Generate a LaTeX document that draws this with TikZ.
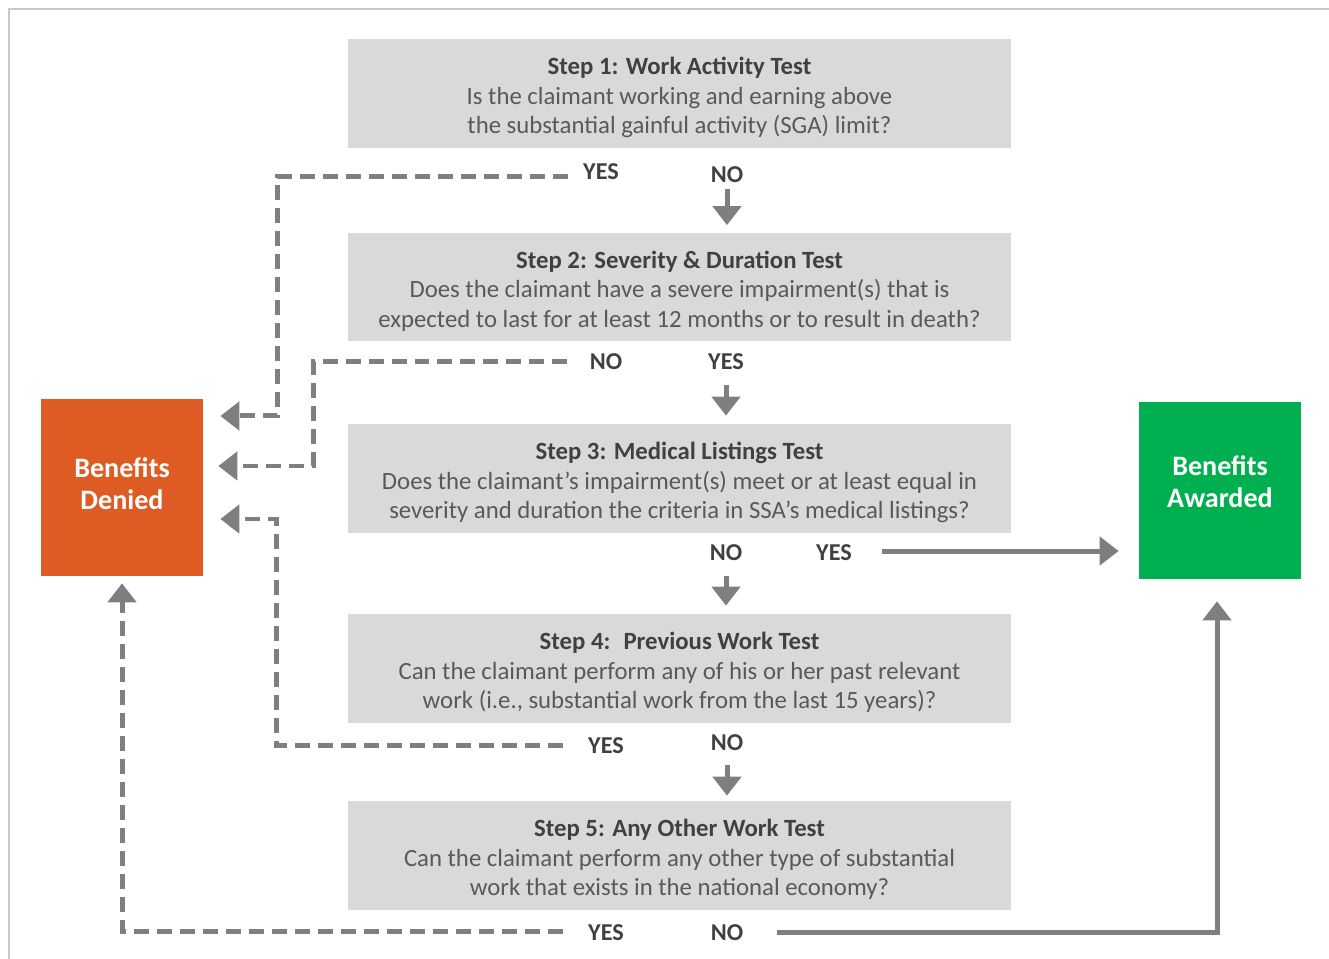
\documentclass[tikz,border=0pt]{standalone}
\usepackage{fontspec}
\setmainfont{Carlito}
\usetikzlibrary{positioning,calc,arrows.meta}
\definecolor{boxgray}{HTML}{D9D9D9}
\definecolor{linegray}{HTML}{7F7F7F}
\definecolor{titlegray}{HTML}{404040}
\definecolor{bodygray}{HTML}{595959}
\definecolor{deniedor}{HTML}{DE5B23}
\definecolor{awardgr}{HTML}{00B050}
\definecolor{framegray}{HTML}{C8C8C8}

\begin{document}
\begin{tikzpicture}[x=0.02cm, y=-0.02cm]
	\tikzstyle{stepbox}=[fill=boxgray, minimum width=13.26cm, minimum height=2.18cm, inner sep=0pt]
	\tikzstyle{steptext}=[align=center, inner sep=0pt, text=bodygray, font=\fontsize{14.1}{16.9}\selectfont, yshift=-0.08cm]
	\tikzstyle{endbox}=[minimum width=3.24cm, minimum height=3.54cm, inner sep=0pt]
	\tikzstyle{endtext}=[align=center, inner sep=0pt, text=white, font=\fontsize{16}{18.3}\selectfont\bfseries]
	\tikzstyle{answer}=[inner sep=0pt, text=titlegray, font=\fontsize{13.8}{16}\selectfont\bfseries]
	\tikzstyle{flow}=[linegray, line width=0.1cm, -{Triangle[length=0.38cm, width=0.56cm]}]
	\tikzstyle{dashflow}=[flow, dash pattern=on 0.3cm off 0.16cm]
	\newcommand{\steptitle}[1]{{\color{titlegray}\bfseries #1}}

	\useasboundingbox (0,0) rectangle (1329,959);
	\draw [framegray, line width=0.03cm] (9,959) -- (9,9) -- (1329,9);

	% the five tests
	\node[stepbox, label={[steptext]center:{\steptitle{Step 1: Work Activity Test}\\Is the claimant working and earning above\\the substantial gainful activity (SGA) limit?}}] (s1) at (679.5, 93.5) {};
	\node[stepbox, label={[steptext]center:{\steptitle{Step 2: Severity \& Duration Test}\\Does the claimant have a severe impairment(s) that is\\expected to last for at least 12 months or to result in death?}}] (s2) at (679.5, 287) {};
	\node[stepbox, label={[steptext]center:{\steptitle{Step 3: Medical Listings Test}\\Does the claimant’s impairment(s) meet or at least equal in\\severity and duration the criteria in SSA's medical listings?}}] (s3) at (679.5, 478.5) {};
	\node[stepbox, label={[steptext]center:{\steptitle{Step 4:~ Previous Work Test}\\Can the claimant perform any of his or her past relevant\\work (i.e., substantial work from the last 15 years)?}}] (s4) at (679.5, 668.5) {};
	\node[stepbox, label={[steptext]center:{\steptitle{Step 5: Any Other Work Test}\\Can the claimant perform any other type of substantial\\work that exists in the national economy?}}] (s5) at (679.5, 855.5) {};

	% outcomes
	\node[endbox, fill=deniedor, label={[endtext, yshift=0.08cm]center:{Benefits\\Denied}}] (denied) at (122, 487.5) {};
	\node[endbox, fill=awardgr, label={[endtext, yshift=0.18cm]center:{Benefits\\Awarded}}] (awarded) at (1220, 490.5) {};

	% answers
	\node[answer] (yes1) at (601, 172) {YES};
	\node[answer] (no1)  at (727, 175) {NO};
	\node[answer] (no2)  at (606, 362) {NO};
	\node[answer] (yes2) at (726, 362) {YES};
	\node[answer] (no3)  at (726, 553) {NO};
	\node[answer] (yes3) at (834, 553) {YES};
	\node[answer] (yes4) at (606, 746) {YES};
	\node[answer] (no4)  at (727, 743) {NO};
	\node[answer] (yes5) at (606, 933) {YES};
	\node[answer] (no5)  at (727, 933) {NO};

	\coordinate (k1) at (277, 416);
	\coordinate (k2) at (313, 466);
	\coordinate (k4) at (276, 519);
	\coordinate (k5) at (122, 931);
	\coordinate (k6) at (1217, 932);

	% on to the next test
	\draw [flow, shorten <=0.12cm, shorten >=0.14cm] (no1.south) -- (no1.south |- s2.north);
	\draw [flow, shorten <=0.3cm, shorten >=0.16cm] (yes2.south) -- (yes2.south |- s3.north);
	\draw [flow, shorten <=0.3cm, shorten >=0.16cm] (no3.south) -- (no3.south |- s4.north);
	\draw [flow, shorten <=0.28cm, shorten >=0.1cm] (no4.south) -- (no4.south |- s5.north);

	% denied
	\draw [dashflow, shorten <=0.3cm, shorten >=0.34cm] (yes1.west |- 0,177) -| (k1) -- (k1 -| denied.east);
	\draw [dashflow, shorten <=0.44cm, shorten >=0.3cm] (no2.west) -| (k2) -- (k2 -| denied.east);
	\draw [dashflow, shorten <=0.5cm, shorten >=0.34cm] (yes4.west |- 0,745) -| (k4) -- (k4 -| denied.east);
	\draw [dashflow, shorten <=0.5cm, shorten >=0.14cm] (yes5.west |- 0,931) -- (k5) -- (denied.south);

	% awarded
	\draw [flow, shorten <=0.6cm, shorten >=0.4cm] (yes3.east |- 0,551) -- (yes3.east |- 0,551 -| awarded.west);
	\draw [flow, shorten <=0.66cm, shorten >=0.44cm] (no5.east |- 0,932) -- (k6) -- (k6 |- awarded.south);
\end{tikzpicture}
\end{document}
